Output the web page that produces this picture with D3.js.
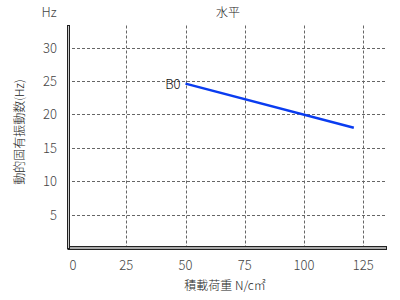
<!DOCTYPE html>
<html><head><meta charset="utf-8">
<script src="https://cdn.jsdelivr.net/npm/d3@7"></script>
<style>body{margin:0;background:#fff;}text{font-family:"Noto Sans CJK JP","DejaVu Sans",sans-serif;font-weight:300;}</style>
</head><body>
<svg id="c" width="400" height="300"></svg>
<script>
const xTicks = [0, 25, 50, 75, 100, 125];
const yTicks = [5, 10, 15, 20, 25, 30];
const seriesName = "B0";
const loads = [50, 121];
const freqs = [24.6, 18.0];
const title = "水平";
const yUnit = "Hz";
const xTitle = "積載荷重 N/c㎡";
const yTitle = "動的固有振動数(Hz)";

const svg = d3.select("#c");
const x = d3.scaleLinear().domain([0, 135]).range([67, 387]);
const y = d3.scaleLinear().domain([0, 33.3]).range([248, 25.5]);

const grid = svg.append("g").attr("stroke", "#666").attr("stroke-dasharray", "3,2").attr("stroke-width", 1);
xTicks.filter(d => d > 0).forEach(d => {
  grid.append("line").attr("x1", Math.round(x(d)) + 0.5).attr("x2", Math.round(x(d)) + 0.5)
    .attr("y1", y(33.3)).attr("y2", y(0));
});
yTicks.forEach(d => {
  grid.append("line").attr("y1", Math.round(y(d)) + 0.5).attr("y2", Math.round(y(d)) + 0.5)
    .attr("x1", x(0)).attr("x2", x(135));
});

// axes
svg.append("rect").attr("x", 68.5).attr("y", 246.5).attr("width", 318).attr("height", 3)
  .attr("fill", "#aaa").attr("stroke", "#222").attr("stroke-width", 1);
svg.append("rect").attr("x", 67.5).attr("y", y(33.3)).attr("width", 2).attr("height", 248 - y(33.3) + 1)
  .attr("fill", "#ccc").attr("stroke", "#222").attr("stroke-width", 1);

const tl = svg.append("g").attr("font-size", 13).attr("fill", "#444");
xTicks.forEach(d => {
  tl.append("text").attr("x", x(d) + (d === 0 ? 6 : 0)).attr("y", 270).attr("text-anchor", "middle").text(d);
});
yTicks.forEach(d => {
  tl.append("text").attr("x", 57).attr("y", y(d) + 5).attr("text-anchor", "end").text(d);
});

const line = d3.line().x((d, i) => x(loads[i])).y(d => y(d));
svg.append("path").datum(freqs).attr("d", line).attr("fill", "none").attr("stroke", "#0a3cf0").attr("stroke-width", 2.5);
svg.append("text").attr("x", x(loads[0]) - 5).attr("y", y(freqs[0]) + 5).attr("text-anchor", "end")
  .attr("font-size", 13).attr("fill", "#111").text(seriesName);

svg.append("text").attr("x", 228).attr("y", 17).attr("text-anchor", "middle").attr("font-size", 12).attr("fill", "#222").text(title);
svg.append("text").attr("x", 49).attr("y", 17).attr("text-anchor", "middle").attr("font-size", 13).attr("fill", "#444").text(yUnit);
svg.append("text").attr("x", 225).attr("y", 290).attr("text-anchor", "middle").attr("font-size", 12).attr("fill", "#222").text(xTitle);
svg.append("text").attr("transform", "translate(24,132) rotate(-90)").attr("text-anchor", "middle").attr("font-size", 12).attr("fill", "#222").text(yTitle);
</script>
</body></html>
